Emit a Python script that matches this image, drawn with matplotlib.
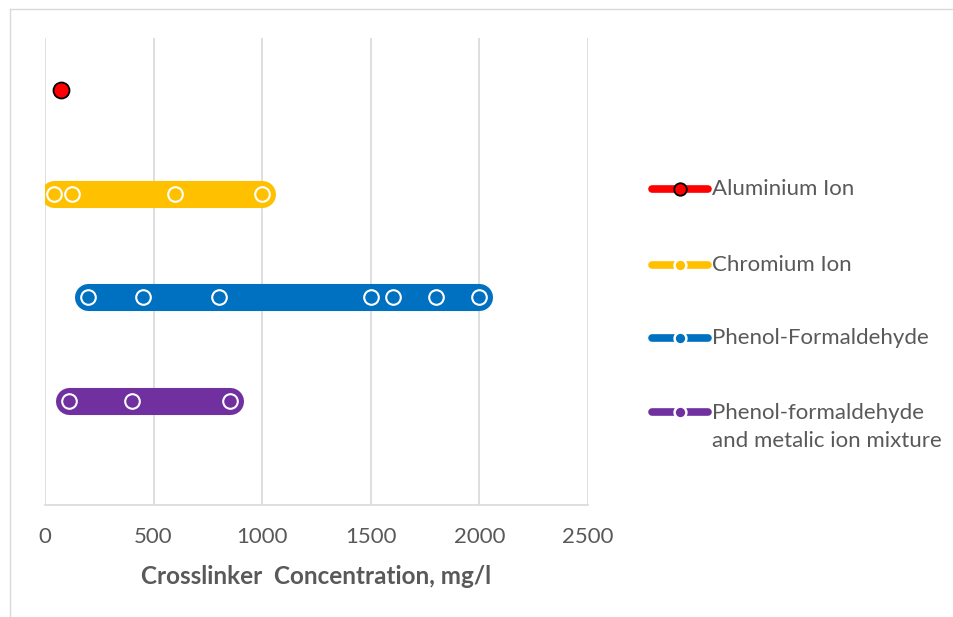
import matplotlib
matplotlib.use("Agg")
import matplotlib.pyplot as plt
from matplotlib.lines import Line2D

plt.rcParams['font.family'] = ['Lato', 'DejaVu Sans']

# ---- data ----
series_names = ["Aluminium Ion", "Chromium Ion", "Phenol-Formaldehyde",
                "Phenol-formaldehyde\nand metalic ion mixture"]
series_rows = [4, 3, 2, 1]
aluminium_x = [75]
chromium_x = [40, 125, 600, 1000]
phenol_x = [200, 450, 800, 1500, 1600, 1800, 2000]
mixture_x = [110, 400, 850]
series_x = [aluminium_x, chromium_x, phenol_x, mixture_x]
series_colors = ["#FF0000", "#FFC000", "#0070C0", "#7030A0"]
x_ticks = [0, 500, 1000, 1500, 2000, 2500]
x_label = "Crosslinker  Concentration, mg/l"

W, H = 954, 617
fig = plt.figure(figsize=(W / 100, H / 100), dpi=100)
ax = fig.add_axes([45 / W, 1 - 505 / H, (588 - 45) / W, (505 - 38) / H])

text_color = "#595959"
grid_color = "#D9D9D9"

for i, (xs, row, col) in enumerate(zip(series_x, series_rows, series_colors)):
    ys = [row] * len(xs)
    if i == 0:
        ax.plot(xs, ys, linestyle='none', marker='o', markersize=11.5,
                markerfacecolor=col, markeredgecolor='black', markeredgewidth=1.3, zorder=3)
    else:
        ax.plot(xs, ys, color=col, linewidth=19.5, solid_capstyle='round', zorder=2)
        ax.plot(xs, ys, linestyle='none', marker='o', markersize=10.5,
                markerfacecolor=col, markeredgecolor='white', markeredgewidth=1.5, zorder=3)

ax.set_xlim(0, 2500)
ax.set_ylim(0, 4.5)
ax.set_xticks(x_ticks)
ax.set_xticklabels([str(t) for t in x_ticks])
ax.set_yticks([])
ax.grid(axis='x', color=grid_color, linewidth=1.2, zorder=0)
ax.set_axisbelow(True)
for s in ['top', 'right', 'left']:
    ax.spines[s].set_visible(False)
ax.spines['bottom'].set_color(grid_color)
ax.spines['bottom'].set_linewidth(1.2)
ax.tick_params(axis='x', length=0, pad=16, labelsize=16, labelcolor=text_color)
ax.set_xlabel(x_label, fontsize=17.5, fontweight='bold', color=text_color, labelpad=13)

# ---- legend (manual) ----
leg_y = [189, 265, 338, 412]
for i, (name, col, ly) in enumerate(zip(series_names, series_colors, leg_y)):
    yf = 1 - ly / H
    x0, x1, xm = 652 / W, 708 / W, 680 / W
    fig.add_artist(Line2D([x0, x1], [yf, yf], color=col, linewidth=5.5,
                          solid_capstyle='round', transform=fig.transFigure))
    if i == 0:
        fig.add_artist(Line2D([xm], [yf], linestyle='none', marker='o', markersize=9,
                              markerfacecolor=col, markeredgecolor='black', markeredgewidth=1.3,
                              transform=fig.transFigure))
    else:
        fig.add_artist(Line2D([xm], [yf], linestyle='none', marker='o', markersize=8.5,
                              markerfacecolor=col, markeredgecolor='white', markeredgewidth=1.8,
                              transform=fig.transFigure))
    if '\n' in name:
        fig.text(712 / W, 1 - (ly - 9) / H, name, fontsize=16, color=text_color,
                 va='top', ha='left', linespacing=1.5)
    else:
        fig.text(712 / W, yf, name, fontsize=16, color=text_color,
                 va='center', ha='left')

# outer chart border (partly cropped)
fig.add_artist(Line2D([10 / W, 1.0], [1 - 9 / H, 1 - 9 / H], color=grid_color, linewidth=1.0,
                      transform=fig.transFigure))
fig.add_artist(Line2D([10 / W, 10 / W], [0, 1 - 9 / H], color=grid_color, linewidth=1.0,
                      transform=fig.transFigure))

fig.savefig("out.png", dpi=100)
